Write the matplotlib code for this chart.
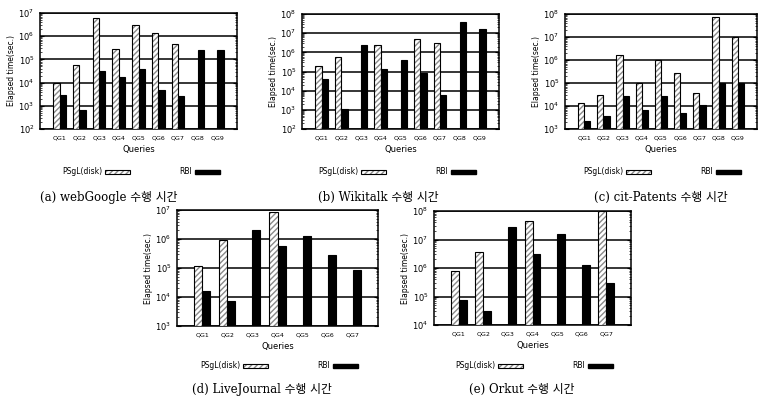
import matplotlib

matplotlib.use("Agg")
import matplotlib.pyplot as plt
import numpy as np
from matplotlib.legend_handler import HandlerTuple
from matplotlib.patches import Patch
from matplotlib.ticker import LogLocator, NullFormatter

W, H = 760, 409

# --- data (elapsed time in sec., None = no bar) ---
google_q = ["QG1", "QG2", "QG3", "QG4", "QG5", "QG6", "QG7", "QG8", "QG9"]
google_psgl = [9.5e3, 5.8e4, 6.0e6, 2.8e5, 3.0e6, 1.4e6, 4.7e5, None, None]
google_rbi = [2.8e3, 5.8e2, 3.3e4, 1.8e4, 3.8e4, 4.7e3, 2.5e3, 2.6e5, 2.6e5]

wiki_q = ["QG1", "QG2", "QG3", "QG4", "QG5", "QG6", "QG7", "QG8", "QG9"]
wiki_psgl = [1.9e5, 5.9e5, None, 2.4e6, None, 4.8e6, 3.2e6, None, None]
wiki_rbi = [4.3e4, 1.07e3, 2.4e6, 1.3e5, 4.0e5, 8.0e4, 5.5e3, 3.8e7, 1.6e7]

cit_q = ["QG1", "QG2", "QG3", "QG4", "QG5", "QG6", "QG7", "QG8", "QG9"]
cit_psgl = [1.3e4, 2.8e4, 1.6e6, 1.0e5, 1.05e6, 2.6e5, 3.6e4, 7.6e7, 9.6e6]
cit_rbi = [1.2e3, 2.5e3, 2.6e4, 6.0e3, 2.6e4, 3.9e3, 1.0e4, 1.0e5, 1.0e5]

lj_q = ["QG1", "QG2", "QG3", "QG4", "QG5", "QG6", "QG7"]
lj_psgl = [1.15e5, 9.0e5, None, 8.5e6, None, None, None]
lj_rbi = [1.5e4, 6.1e3, 2.0e6, 5.6e5, 1.27e6, 2.9e5, 8.1e4]

orkut_q = ["QG1", "QG2", "QG3", "QG4", "QG5", "QG6", "QG7"]
orkut_psgl = [7.6e5, 3.7e6, None, 4.3e7, None, None, 9.7e7]
orkut_rbi = [6.5e4, 2.2e4, 2.8e7, 3.0e6, 1.5e7, 1.26e6, 2.9e5]

captions = [
    "(a) webGoogle 수행 시간",
    "(b) Wikitalk 수행 시간",
    "(c) cit-Patents 수행 시간",
    "(d) LiveJournal 수행 시간",
    "(e) Orkut 수행 시간",
]

# --- layout in pixels: axes box (x0, x1, y_top, y_bottom), ylim, legend centre, caption centre ---
panels = [
    (google_q, google_psgl, google_rbi, (40, 237, 13, 129), (1e2, 1e7), (141, 172), (109, 197)),
    (wiki_q, wiki_psgl, wiki_rbi, (302, 499, 14, 129), (1e2, 1e8), (397, 172), (378, 197)),
    (cit_q, cit_psgl, cit_rbi, (565, 757, 14, 129), (1e3, 1e8), (662, 172), (661, 197)),
    (lj_q, lj_psgl, lj_rbi, (177, 378, 210, 326), (1e3, 1e7), (279, 366), (262, 389)),
    (orkut_q, orkut_psgl, orkut_rbi, (434, 631, 211, 325), (1e4, 1e8), (534, 366), (522, 389)),
]

fig = plt.figure(figsize=(W / 100, H / 100), dpi=100)
caption_font = ["DejaVu Serif", "Noto Sans CJK KR"]
bar_w = 0.32

for (queries, psgl, rbi, box, ylim, leg_xy, cap_xy), caption in zip(panels, captions):
    x0, x1, yt, yb = box
    ax = fig.add_axes([x0 / W, 1 - yb / H, (x1 - x0) / W, (yb - yt) / H])
    x = np.arange(1, len(queries) + 1)
    ps = np.array([np.nan if v is None else v for v in psgl])
    rb = np.array(rbi)

    # hatched PSgL bars: grey hatch, black outline drawn on top
    ax.bar(x - bar_w / 2, ps, bar_w, bottom=ylim[0], color="white",
           edgecolor="#8a8a8a", hatch="//////", linewidth=0, zorder=3)
    ax.bar(x - bar_w / 2, ps, bar_w, bottom=ylim[0], fill=False,
           edgecolor="black", linewidth=0.8, zorder=4)
    ax.bar(x + bar_w / 2, rb, bar_w, bottom=ylim[0], color="black",
           edgecolor="black", linewidth=0.8, zorder=4)

    ax.set_yscale("log")
    ax.set_ylim(*ylim)
    ax.set_xlim(0, len(queries) + 1)
    ax.set_xticks(x, queries)
    ax.yaxis.set_major_locator(LogLocator(base=10, numticks=20))
    ax.yaxis.set_minor_locator(LogLocator(base=10, subs=np.arange(2, 10), numticks=20))
    ax.yaxis.set_minor_formatter(NullFormatter())
    ax.yaxis.grid(True, which="major", color="black", linewidth=1.1, zorder=1)
    ax.set_axisbelow(True)

    ax.tick_params(axis="x", length=0, labelsize=4.5, pad=5)
    ax.tick_params(axis="y", which="major", direction="in", right=True,
                   length=3, width=0.8, labelsize=6, pad=4)
    ax.tick_params(axis="y", which="minor", direction="in", right=True,
                   length=1.5, width=0.5)
    for s in ax.spines.values():
        s.set_linewidth(1.1)

    ax.set_xlabel("Queries", fontsize=6, labelpad=3)
    ax.set_ylabel("Elapsed time(sec.)", fontsize=5.5, labelpad=2)

    hatch_handle = (Patch(facecolor="white", edgecolor="#8a8a8a", hatch="//////", linewidth=0),
                    Patch(fill=False, edgecolor="black", linewidth=0.8))
    rbi_handle = Patch(facecolor="black", edgecolor="black")
    fig.legend([hatch_handle, rbi_handle], ["PSgL(disk)", "RBI"],
               handler_map={tuple: HandlerTuple(ndivide=1)},
               loc="center", bbox_to_anchor=(leg_xy[0] / W, 1 - leg_xy[1] / H),
               ncol=2, markerfirst=False, frameon=False, fontsize=5.5,
               handlelength=3.2, handleheight=0.5, handletextpad=0.4,
               columnspacing=6.5, borderpad=0)

    fig.text(cap_xy[0] / W, 1 - cap_xy[1] / H, caption, ha="center", va="center",
             fontsize=8.5, family=caption_font)

fig.savefig("out.png", dpi=100)
